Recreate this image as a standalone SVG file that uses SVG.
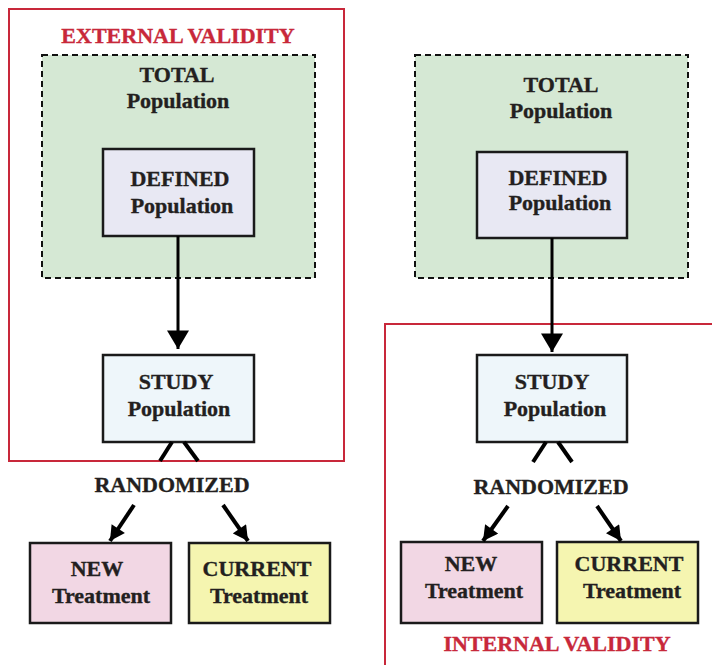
<svg xmlns="http://www.w3.org/2000/svg" width="712" height="665" viewBox="0 0 712 665">
<style>
text{font-family:"Liberation Serif","Times New Roman",serif;font-weight:bold;text-anchor:middle;fill:#231f20;stroke:#231f20;stroke-width:0.35;font-size:22px}
.red{fill:#c8283a;stroke:#c8283a}
.frame{fill:none;stroke:#c8283a;stroke-width:2}
.total{fill:#d5e8d4;stroke:#111;stroke-width:2;stroke-dasharray:6 4}
.box{stroke:#1a1a1a;stroke-width:2.5}
.conn{stroke:#000;fill:none}
</style>
<defs>
<marker id="big" markerUnits="userSpaceOnUse" markerWidth="26" markerHeight="22" refX="22" refY="13" orient="auto" viewBox="0 0 22 26">
<path d="M0,0 L22,13 L0,26 Z" fill="#000"/>
</marker>
<marker id="small" markerUnits="userSpaceOnUse" markerWidth="16" markerHeight="16" refX="13" refY="7" orient="auto" viewBox="0 0 13 14">
<path d="M0,0 L13,7 L0,14 Z" fill="#000"/>
</marker>
</defs>
<rect width="712" height="665" fill="#fff"/>

<g id="external-validity">
<rect class="frame" x="9" y="9" width="335" height="452"/>
<text class="red" x="178" y="43" font-size="21.5">EXTERNAL VALIDITY</text>
</g>
<g id="internal-validity">
<rect class="frame" x="385" y="324" width="340" height="360"/>
<text class="red" x="557" y="651" font-size="21.5">INTERNAL VALIDITY</text>
</g>

<g id="total-left">
<rect class="total" x="42" y="55" width="273" height="223"/>
<text x="177" y="82">TOTAL</text>
<text x="178" y="108">Population</text>
</g>
<g id="defined-left">
<rect class="box" x="103" y="149" width="151" height="87" fill="#e8e8f3"/>
<text x="180" y="186">DEFINED</text>
<text x="182" y="213">Population</text>
</g>
<g id="study-left">
<rect class="box" x="103" y="355" width="151" height="87" fill="#eef6fa"/>
<text x="176" y="389">STUDY</text>
<text x="179" y="416">Population</text>
</g>
<g id="randomized-left">
<text x="172" y="492">RANDOMIZED</text>
</g>
<g id="new-left">
<rect class="box" x="30" y="543" width="141" height="80" fill="#f2d7e4"/>
<text x="97" y="576">NEW</text>
<text x="101" y="603">Treatment</text>
</g>
<g id="current-left">
<rect class="box" x="189" y="543" width="141" height="80" fill="#f5f5b0"/>
<text x="257" y="576">CURRENT</text>
<text x="259" y="603">Treatment</text>
</g>

<g id="total-right">
<rect class="total" x="415" y="55" width="273" height="223"/>
<text x="561" y="92">TOTAL</text>
<text x="561" y="118">Population</text>
</g>
<g id="defined-right">
<rect class="box" x="477" y="152" width="150" height="86" fill="#e8e8f3"/>
<text x="558" y="185">DEFINED</text>
<text x="560" y="210">Population</text>
</g>
<g id="study-right">
<rect class="box" x="477" y="355" width="150" height="87" fill="#eef6fa"/>
<text x="552" y="389">STUDY</text>
<text x="555" y="416">Population</text>
</g>
<g id="randomized-right">
<text x="551" y="494">RANDOMIZED</text>
</g>
<g id="new-right">
<rect class="box" x="401" y="542" width="141" height="81" fill="#f2d7e4"/>
<text x="471" y="571">NEW</text>
<text x="474" y="598">Treatment</text>
</g>
<g id="current-right">
<rect class="box" x="557" y="542" width="141" height="81" fill="#f5f5b0"/>
<text x="629" y="571">CURRENT</text>
<text x="632" y="598">Treatment</text>
</g>

<g id="connectors">
<line class="conn" x1="178" y1="236" x2="178" y2="349" stroke-width="3" marker-end="url(#big)"/>
<line class="conn" x1="172" y1="442" x2="160" y2="461" stroke-width="4"/>
<line class="conn" x1="184" y1="442" x2="198" y2="461" stroke-width="4"/>
<line class="conn" x1="134" y1="505" x2="110" y2="541" stroke-width="4" marker-end="url(#small)"/>
<line class="conn" x1="223" y1="505" x2="248" y2="541" stroke-width="4" marker-end="url(#small)"/>

<line class="conn" x1="552" y1="238" x2="552" y2="352" stroke-width="3" marker-end="url(#big)"/>
<line class="conn" x1="546" y1="442" x2="533" y2="462" stroke-width="4"/>
<line class="conn" x1="558" y1="442" x2="572" y2="462" stroke-width="4"/>
<line class="conn" x1="508" y1="506" x2="483" y2="541" stroke-width="4" marker-end="url(#small)"/>
<line class="conn" x1="597" y1="506" x2="621" y2="541" stroke-width="4" marker-end="url(#small)"/>
</g>
</svg>
